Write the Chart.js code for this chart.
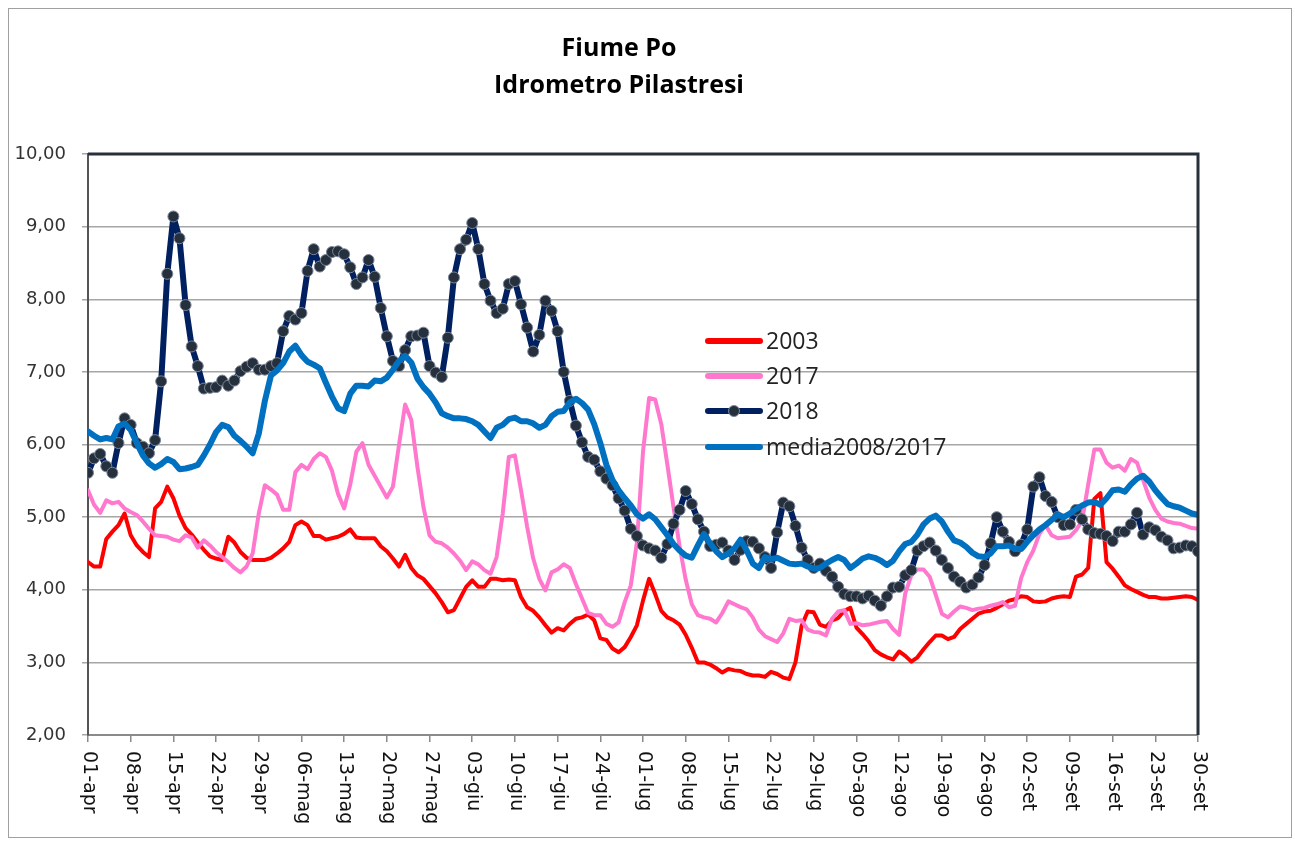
<!DOCTYPE html>
<html>
<head>
<meta charset="utf-8">
<title>Fiume Po - Idrometro Pilastresi</title>
<script src="https://cdn.jsdelivr.net/npm/chart.js@4.4.1/dist/chart.umd.min.js"></script>
<style>
  body { margin: 0; background: #fff; }
  #wrap { width: 1295px; height: 845px; }
</style>
</head>
<body>
<div id="wrap"><canvas id="graph" width="1295" height="845"></canvas></div>
<script>
const titleLines = ["Fiume Po", "Idrometro Pilastresi"];

// one label every 7 days, 01-apr .. 30-set
const tickLabels = ["01-apr", "08-apr", "15-apr", "22-apr", "29-apr", "06-mag", "13-mag", "20-mag", "27-mag",
  "03-giu", "10-giu", "17-giu", "24-giu", "01-lug", "08-lug", "15-lug", "22-lug", "29-lug",
  "05-ago", "12-ago", "19-ago", "26-ago", "02-set", "09-set", "16-set", "23-set", "30-set"];

const s2003 = [
  4.38, 4.32, 4.32, 4.70, 4.80, 4.89, 5.05, 4.75, 4.61, 4.52,
  4.45, 5.12, 5.21, 5.42, 5.26, 5.02, 4.85, 4.76, 4.65, 4.55,
  4.46, 4.43, 4.41, 4.73, 4.65, 4.52, 4.44, 4.41, 4.41, 4.41,
  4.44, 4.50, 4.57, 4.66, 4.89, 4.94, 4.89, 4.74, 4.74, 4.69,
  4.71, 4.73, 4.77, 4.83, 4.72, 4.71, 4.71, 4.71, 4.60, 4.53,
  4.43, 4.32, 4.48, 4.30, 4.20, 4.15, 4.05, 3.95, 3.83, 3.69,
  3.72, 3.88, 4.04, 4.13, 4.04, 4.04, 4.15, 4.15, 4.13, 4.14,
  4.13, 3.90, 3.76, 3.71, 3.62, 3.51, 3.41, 3.47, 3.44, 3.53,
  3.60, 3.62, 3.66, 3.58, 3.33, 3.31, 3.19, 3.14, 3.21, 3.35,
  3.51, 3.85, 4.15, 3.94, 3.71, 3.62, 3.58, 3.52, 3.38, 3.20,
  3.00, 3.00, 2.97, 2.92, 2.86, 2.91, 2.89, 2.88, 2.84, 2.82,
  2.82, 2.80, 2.87, 2.84, 2.79, 2.77, 3.00, 3.50, 3.70, 3.69,
  3.52, 3.49, 3.58, 3.61, 3.71, 3.75, 3.48, 3.39, 3.29, 3.17,
  3.11, 3.07, 3.04, 3.15, 3.09, 3.01, 3.07, 3.18, 3.28, 3.37,
  3.37, 3.32, 3.35, 3.46, 3.53, 3.60, 3.67, 3.70, 3.71, 3.75,
  3.80, 3.85, 3.87, 3.91, 3.90, 3.84, 3.83, 3.84, 3.88, 3.90,
  3.91, 3.90, 4.18, 4.21, 4.30, 5.25, 5.33, 4.38, 4.29, 4.18,
  4.06, 4.01, 3.97, 3.93, 3.90, 3.90, 3.88, 3.88, 3.89, 3.90,
  3.91, 3.90, 3.86
];

const s2017 = [
  5.37, 5.17, 5.06, 5.23, 5.19, 5.21, 5.12, 5.07, 5.03, 4.94,
  4.84, 4.75, 4.74, 4.73, 4.69, 4.67, 4.75, 4.72, 4.58, 4.68,
  4.61, 4.52, 4.45, 4.38, 4.30, 4.24, 4.32, 4.50, 5.05, 5.44,
  5.38, 5.31, 5.10, 5.10, 5.62, 5.72, 5.66, 5.80, 5.88, 5.83,
  5.64, 5.32, 5.12, 5.45, 5.90, 6.02, 5.72, 5.57, 5.42, 5.27,
  5.42, 6.00, 6.55, 6.34, 5.70, 5.14, 4.75, 4.66, 4.64, 4.58,
  4.50, 4.40, 4.27, 4.39, 4.35, 4.27, 4.22, 4.45, 5.05, 5.83,
  5.85, 5.37, 4.87, 4.43, 4.15, 3.99, 4.24, 4.28, 4.35, 4.30,
  4.08, 3.88, 3.68, 3.65, 3.65, 3.53, 3.49, 3.55, 3.83, 4.06,
  4.65, 5.90, 6.64, 6.62, 6.28, 5.72, 5.14, 4.60, 4.14, 3.80,
  3.65, 3.62, 3.60, 3.55, 3.68, 3.84, 3.80, 3.76, 3.73, 3.62,
  3.45, 3.36, 3.32, 3.28, 3.40, 3.60, 3.57, 3.58, 3.45, 3.42,
  3.41, 3.37, 3.60, 3.70, 3.72, 3.53, 3.54, 3.51, 3.52, 3.54,
  3.56, 3.57, 3.46, 3.38, 3.95, 4.20, 4.28, 4.28, 4.18, 3.93,
  3.67, 3.62, 3.70, 3.77, 3.75, 3.72, 3.74, 3.75, 3.78, 3.80,
  3.83, 3.76, 3.78, 4.16, 4.38, 4.54, 4.77, 4.89, 4.75, 4.71,
  4.72, 4.73, 4.82, 4.95, 5.45, 5.93, 5.93, 5.75, 5.68, 5.71,
  5.64, 5.80, 5.75, 5.51, 5.27, 5.10, 4.98, 4.94, 4.92, 4.91,
  4.88, 4.85, 4.84
];

const s2018 = [
  5.61, 5.81, 5.87, 5.70, 5.61, 6.02, 6.36, 6.27, 6.02, 5.97,
  5.88, 6.06, 6.87, 8.35, 9.14, 8.84, 7.92, 7.35, 7.08, 6.77,
  6.78, 6.79, 6.88, 6.81, 6.88, 7.01, 7.07, 7.12, 7.03, 7.03,
  7.08, 7.12, 7.56, 7.77, 7.72, 7.81, 8.39, 8.69, 8.45, 8.54,
  8.65, 8.66, 8.62, 8.44, 8.21, 8.30, 8.54, 8.31, 7.88, 7.49,
  7.15, 7.08, 7.30, 7.49, 7.50, 7.54, 7.08, 6.99, 6.93, 7.47,
  8.30, 8.69, 8.82, 9.05, 8.69, 8.21, 7.98, 7.81, 7.87, 8.21,
  8.25, 7.93, 7.61, 7.28, 7.51, 7.98, 7.84, 7.56, 7.00, 6.60,
  6.26, 6.03, 5.83, 5.79, 5.63, 5.53, 5.44, 5.26, 5.09, 4.84,
  4.74, 4.61, 4.57, 4.54, 4.44, 4.63, 4.91, 5.10, 5.36, 5.18,
  4.97, 4.80, 4.60, 4.62, 4.65, 4.54, 4.41, 4.55, 4.67, 4.66,
  4.57, 4.45, 4.30, 4.79, 5.20, 5.15, 4.88, 4.58, 4.41, 4.30,
  4.36, 4.26, 4.18, 4.04, 3.94, 3.91, 3.91, 3.88, 3.92, 3.85,
  3.78, 3.91, 4.03, 4.04, 4.20, 4.27, 4.54, 4.60, 4.65, 4.54,
  4.41, 4.30, 4.18, 4.11, 4.03, 4.07, 4.17, 4.34, 4.64, 5.00,
  4.80, 4.66, 4.53, 4.62, 4.83, 5.42, 5.55, 5.29, 5.21, 5.00,
  4.89, 4.90, 5.10, 4.97, 4.83, 4.78, 4.77, 4.74, 4.67, 4.80,
  4.80, 4.90, 5.06, 4.76, 4.86, 4.82, 4.73, 4.68, 4.57, 4.58,
  4.61, 4.60, 4.53
];

const sMedia = [
  6.18, 6.12, 6.07, 6.09, 6.07, 6.25, 6.29, 6.20, 6.02, 5.85,
  5.74, 5.68, 5.73, 5.80, 5.76, 5.66, 5.67, 5.69, 5.72, 5.85,
  6.00, 6.17, 6.27, 6.24, 6.12, 6.05, 5.97, 5.88, 6.15, 6.60,
  6.95, 7.02, 7.12, 7.28, 7.36, 7.23, 7.14, 7.10, 7.05, 6.85,
  6.66, 6.50, 6.46, 6.70, 6.81, 6.81, 6.80, 6.88, 6.87, 6.92,
  7.03, 7.15, 7.22, 7.13, 6.91, 6.79, 6.70, 6.58, 6.43, 6.39,
  6.36, 6.36, 6.35, 6.32, 6.27, 6.18, 6.09, 6.23, 6.27, 6.35,
  6.37, 6.32, 6.32, 6.29, 6.23, 6.27, 6.39, 6.45, 6.46, 6.58,
  6.63, 6.57, 6.48, 6.28, 6.02, 5.72, 5.51, 5.37, 5.26, 5.16,
  5.04, 4.98, 5.04, 4.97, 4.86, 4.75, 4.63, 4.54, 4.47, 4.44,
  4.61, 4.77, 4.64, 4.53, 4.45, 4.50, 4.57, 4.69, 4.54, 4.36,
  4.30, 4.45, 4.42, 4.44, 4.40, 4.36, 4.35, 4.36, 4.32, 4.29,
  4.30, 4.36, 4.41, 4.45, 4.41, 4.30, 4.36, 4.43, 4.46, 4.44,
  4.40, 4.34, 4.40, 4.53, 4.63, 4.66, 4.76, 4.90, 4.98, 5.02,
  4.94, 4.80, 4.68, 4.65, 4.59, 4.51, 4.46, 4.45, 4.50, 4.60,
  4.60, 4.61, 4.56, 4.56, 4.66, 4.75, 4.83, 4.89, 4.96, 5.03,
  5.00, 5.05, 5.11, 5.16, 5.20, 5.21, 5.17, 5.26, 5.37, 5.38,
  5.35, 5.45, 5.53, 5.57, 5.49, 5.37, 5.27, 5.18, 5.15, 5.13,
  5.09, 5.05, 5.03
];

const days = s2018.map((v, i) => i);

// title, rotated x labels, legend and plot frame
const decorPlugin = {
  id: "decor",
  afterDraw(chart) {
    const ctx = chart.ctx;
    const area = chart.chartArea;
    const xs = chart.scales.x;
    ctx.save();

    // outer frame
    ctx.strokeStyle = "#a0a0a0";
    ctx.lineWidth = 1;
    ctx.strokeRect(8.5, 8.5, 1283, 829);

    // dark plot border top and right
    ctx.strokeStyle = "#28303a";
    ctx.lineWidth = 3;
    ctx.beginPath();
    ctx.moveTo(area.left, area.top);
    ctx.lineTo(area.right, area.top);
    ctx.lineTo(area.right, area.bottom);
    ctx.stroke();

    // title
    ctx.fillStyle = "#000";
    ctx.font = 'bold 25px "Open Sans"';
    ctx.textAlign = "center";
    ctx.textBaseline = "alphabetic";
    ctx.fillText(titleLines[0], 619, 56);
    ctx.fillText(titleLines[1], 619, 93);

    // x labels, reading downwards
    ctx.font = '19px "DejaVu Sans"';
    ctx.fillStyle = "#111";
    ctx.textAlign = "left";
    ctx.textBaseline = "middle";
    tickLabels.forEach((t, i) => {
      const x = xs.getPixelForValue(i * 7);
      ctx.save();
      ctx.translate(x + 1, area.bottom + 16);
      ctx.rotate(Math.PI / 2);
      ctx.fillText(t, 0, 0);
      ctx.restore();
    });

    // legend
    const rows = [341, 376, 411, 447];
    ctx.font = '23px "Open Sans"';
    ctx.fillStyle = "#222";
    ctx.textBaseline = "middle";
    ctx.lineCap = "round";
    chart.data.datasets.forEach((ds, i) => {
      const y = rows[i];
      ctx.strokeStyle = ds.borderColor;
      ctx.lineWidth = 6;
      ctx.beginPath();
      ctx.moveTo(708, y);
      ctx.lineTo(760, y);
      ctx.stroke();
      if (ds.pointRadius > 0) {
        ctx.beginPath();
        ctx.arc(734, y, ds.pointRadius, 0, Math.PI * 2);
        ctx.fillStyle = ds.pointBackgroundColor;
        ctx.fill();
        ctx.lineWidth = 1;
        ctx.strokeStyle = ds.pointBorderColor;
        ctx.stroke();
      }
      ctx.fillStyle = "#222";
      ctx.fillText(ds.label, 766, y + 1);
    });

    ctx.restore();
  }
};

const graphCtx = document.getElementById("graph").getContext("2d");
const graph = new Chart(graphCtx, {
  type: "line",
  data: {
    labels: days,
    datasets: [
      {
        label: "2003",
        data: s2003,
        borderColor: "#FF0000",
        borderWidth: 4,
        pointRadius: 0,
        order: 4,
      },
      {
        label: "2017",
        data: s2017,
        borderColor: "#FF78CD",
        borderWidth: 4,
        pointRadius: 0,
        order: 3,
      },
      {
        label: "2018",
        data: s2018,
        borderColor: "#002060",
        borderWidth: 6,
        pointRadius: 5.5,
        pointBackgroundColor: "#26303d",
        pointBorderColor: "#7a8699",
        pointBorderWidth: 1,
        order: 2,
      },
      {
        label: "media2008/2017",
        data: sMedia,
        borderColor: "#0070C0",
        borderWidth: 6,
        pointRadius: 0,
        order: 1,
      },
    ],
  },
  options: {
    responsive: false,
    animation: false,
    events: [],
    elements: {
      line: { tension: 0, borderJoinStyle: "round", borderCapStyle: "round" },
    },
    layout: { padding: { left: 0, right: 97, top: 154, bottom: 0 } },
    plugins: {
      legend: { display: false },
      title: { display: false },
      tooltip: { enabled: false },
    },
    scales: {
      x: {
        type: "linear",
        min: 0,
        max: 182,
        ticks: { stepSize: 7, display: false },
        grid: { drawOnChartArea: false, drawTicks: true, tickLength: 7, color: "#8a8a8a", lineWidth: 1.5 },
        border: { color: "#8a8a8a", width: 2 },
        afterFit(scale) { scale.height = 110; },
      },
      y: {
        min: 2,
        max: 10,
        ticks: {
          stepSize: 1,
          padding: 16,
          color: "#333",
          font: { family: "DejaVu Sans", size: 18 },
          callback: (v) => v.toFixed(2).replace(".", ","),
        },
        grid: { color: "#a6a6a6", lineWidth: 1.5, tickLength: 6 },
        border: { color: "#555", width: 2 },
        afterFit(scale) { scale.width = 88; },
      },
    },
  },
  plugins: [decorPlugin],
});
</script>
</body>
</html>
